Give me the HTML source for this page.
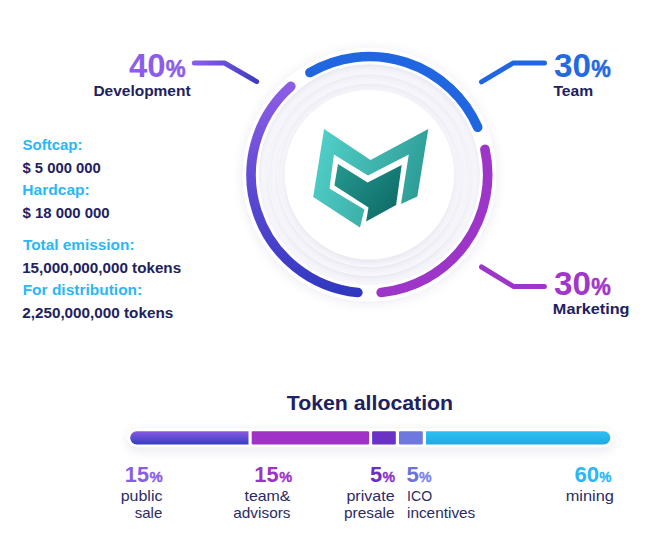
<!DOCTYPE html>
<html>
<head>
<meta charset="utf-8">
<title>Token allocation</title>
<style>
html,body{margin:0;padding:0;background:#ffffff;}
body{width:663px;height:533px;overflow:hidden;position:relative;font-family:"Liberation Sans",sans-serif;}
svg{position:absolute;left:0;top:0;display:block;}
text{font-family:"Liberation Sans",sans-serif;}
.b{font-weight:bold;}
.navy{fill:#21215e;}
.cyan{fill:#2ab7f5;}
.lab{fill:#2b2b63;font-size:15px;}
</style>
</head>
<body>
<svg width="663" height="533" viewBox="0 0 663 533">
<defs>
  <radialGradient id="halo" gradientUnits="userSpaceOnUse" cx="369.4" cy="176.3" r="140">
    <stop offset="0.89" stop-color="#e9e9f2" stop-opacity="0.6"/>
    <stop offset="0.935" stop-color="#efeff6" stop-opacity="0.3"/>
    <stop offset="1" stop-color="#ffffff" stop-opacity="0"/>
  </radialGradient>
  <radialGradient id="band" gradientUnits="userSpaceOnUse" cx="369.4" cy="174.8" r="111">
    <stop offset="0.760" stop-color="#ffffff"/>
    <stop offset="0.774" stop-color="#f4f4f9"/>
    <stop offset="0.815" stop-color="#f6f6fa"/>
    <stop offset="0.825" stop-color="#fafafd"/>
    <stop offset="0.835" stop-color="#f5f5fa"/>
    <stop offset="0.897" stop-color="#f6f6fa"/>
    <stop offset="0.907" stop-color="#fafafd"/>
    <stop offset="0.917" stop-color="#f4f4f9"/>
    <stop offset="0.975" stop-color="#f2f2f8"/>
    <stop offset="0.988" stop-color="#efeff6"/>
    <stop offset="0.998" stop-color="#ffffff"/>
  </radialGradient>
  <linearGradient id="gdev" gradientUnits="userSpaceOnUse" x1="300" y1="80" x2="330" y2="295">
    <stop offset="0" stop-color="#8e5ee6"/>
    <stop offset="0.5" stop-color="#5a48d2"/>
    <stop offset="1" stop-color="#3038c0"/>
  </linearGradient>
  <linearGradient id="gdevl" gradientUnits="userSpaceOnUse" x1="192" y1="63" x2="258" y2="82">
    <stop offset="0" stop-color="#8f5fe8"/>
    <stop offset="1" stop-color="#3a3cc2"/>
  </linearGradient>
  <linearGradient id="glogo" gradientUnits="userSpaceOnUse" x1="316" y1="150" x2="428" y2="190">
    <stop offset="0" stop-color="#50cfc8"/>
    <stop offset="0.5" stop-color="#3fb4ad"/>
    <stop offset="1" stop-color="#2a9a93"/>
  </linearGradient>
  <linearGradient id="glogo2" gradientUnits="userSpaceOnUse" x1="338" y1="165" x2="398" y2="212">
    <stop offset="0" stop-color="#24978f"/>
    <stop offset="1" stop-color="#0e6b66"/>
  </linearGradient>
  <linearGradient id="gbar1" x1="0" y1="0" x2="0" y2="1">
    <stop offset="0" stop-color="#8a58e2"/>
    <stop offset="1" stop-color="#343ec0"/>
  </linearGradient>
  <linearGradient id="gbar5" x1="0" y1="0" x2="0" y2="1">
    <stop offset="0" stop-color="#2dc0f4"/>
    <stop offset="1" stop-color="#22a8e2"/>
  </linearGradient>
  <linearGradient id="gp5" x1="0" y1="0" x2="1" y2="0">
    <stop offset="0" stop-color="#6a30c4"/>
    <stop offset="1" stop-color="#9a34cc"/>
  </linearGradient>
  <linearGradient id="gi5" x1="0" y1="0" x2="1" y2="0">
    <stop offset="0" stop-color="#6a70dc"/>
    <stop offset="1" stop-color="#8088ee"/>
  </linearGradient>
  <filter id="barsh" x="-10%" y="-200%" width="120%" height="500%">
    <feGaussianBlur stdDeviation="5"/>
  </filter>
<clipPath id="c1106"><circle cx="369.4" cy="174.8" r="110.6"/></clipPath>
<clipPath id="c1007"><circle cx="369.4" cy="174.8" r="100.7"/></clipPath>
<clipPath id="c916"><circle cx="369.4" cy="174.8" r="91.6"/></clipPath>
<filter id="b2" x="-10%" y="-10%" width="120%" height="120%"><feGaussianBlur stdDeviation="2.2"/></filter>
</defs>

<!-- ring background -->
<circle cx="369.4" cy="176.3" r="140" fill="url(#halo)"/>
<circle cx="369.4" cy="174.8" r="127" fill="#ffffff"/>
<g clip-path="url(#c1106)">
<circle cx="369.4" cy="174.8" r="110.6" fill="#f5f5fa"/>
<circle cx="369.4" cy="177.8" r="114.6" fill="none" stroke="#d6d6e4" stroke-width="8" filter="url(#b2)" opacity="0.4"/>
<circle cx="369.4" cy="177.8" r="100.7" fill="#d6d6e4" filter="url(#b2)" opacity="0.4"/>
<circle cx="369.4" cy="174.8" r="100.7" fill="#f5f5fa" stroke="#fbfbfe" stroke-width="1"/>
<g clip-path="url(#c1007)"><circle cx="369.4" cy="177.8" r="104.7" fill="none" stroke="#d6d6e4" stroke-width="8" filter="url(#b2)" opacity="0.3"/></g>
<circle cx="369.4" cy="177.8" r="91.6" fill="#d6d6e4" filter="url(#b2)" opacity="0.4"/>
<circle cx="369.4" cy="174.8" r="91.6" fill="#f5f5fa" stroke="#fbfbfe" stroke-width="1"/>
<g clip-path="url(#c916)"><circle cx="369.4" cy="177.8" r="95.6" fill="none" stroke="#d6d6e4" stroke-width="8" filter="url(#b2)" opacity="0.3"/></g>
<circle cx="369.4" cy="177.8" r="84.8" fill="#d6d6e4" filter="url(#b2)" opacity="0.4"/>
<circle cx="369.4" cy="174.8" r="84.8" fill="#ffffff"/>
</g>

<!-- arcs -->
<g fill="none" stroke-width="9.6" stroke-linecap="round">
  <path d="M357.86 292.54A118.3 118.3 0 0 1 290.86 86.34" stroke="url(#gdev)"/>
  <path d="M309.89 72.56A118.3 118.3 0 0 1 477.72 127.25" stroke="#2066e0"/>
  <path d="M484.94 149.40A118.3 118.3 0 0 1 381.15 292.52" stroke="#9d35c9"/>
</g>

<!-- connector lines -->
<g fill="none" stroke-width="5" stroke-linecap="round" stroke-linejoin="round">
  <path d="M194.3 63H224.5L256.7 81.6" stroke="url(#gdevl)"/>
  <path d="M481.5 81.9L513.4 62.9H544.5" stroke="#2066e0"/>
  <path d="M481.5 267L513.4 286.4H544.4" stroke="#9d35c9"/>
</g>

<!-- logo -->
<path d="M324.1 129L370.5 160L428.3 129L417.3 196.6L401 203.9L408.8 154.6L368 175.4L333.9 154.6L329.5 188.5L364.4 209.5L360 227.6L313.2 197Z" fill="url(#glogo)"/>
<path d="M338 164.1L367.6 182.4L401.7 164.9L396.1 205.1L366.1 221.5L368.5 207.6L334.4 185.6Z" fill="url(#glogo2)"/>

<text id="t40" x="128.97" y="76.7" font-size="32.7" font-weight="bold" fill="#8d5dea" textLength="36.54" lengthAdjust="spacingAndGlyphs">40</text>
<text id="p40" x="165.73" y="76.7" font-size="23.2" font-weight="bold" fill="#8d5dea" stroke="#8d5dea" stroke-width="0.5" textLength="19.84" lengthAdjust="spacingAndGlyphs">%</text>
<text id="dev" x="93.41" y="95.7" font-size="14" font-weight="bold" fill="#21215e" textLength="97.17" lengthAdjust="spacingAndGlyphs">Development</text>
<text id="t30a" x="553.94" y="76.9" font-size="32.7" font-weight="bold" fill="#2369e2" textLength="36.98" lengthAdjust="spacingAndGlyphs">30</text>
<text id="p30a" x="591.24" y="76.9" font-size="23.2" font-weight="bold" fill="#2369e2" stroke="#2369e2" stroke-width="0.5" textLength="19.58" lengthAdjust="spacingAndGlyphs">%</text>
<text id="team" x="553.47" y="95.7" font-size="14" font-weight="bold" fill="#21215e" textLength="39.72" lengthAdjust="spacingAndGlyphs">Team</text>
<text id="t30b" x="553.94" y="294.9" font-size="32.7" font-weight="bold" fill="#9f37cb" textLength="36.98" lengthAdjust="spacingAndGlyphs">30</text>
<text id="p30b" x="591.24" y="294.9" font-size="23.2" font-weight="bold" fill="#9f37cb" stroke="#9f37cb" stroke-width="0.5" textLength="19.58" lengthAdjust="spacingAndGlyphs">%</text>
<text id="mk" x="552.86" y="313.5" font-size="14" font-weight="bold" fill="#21215e" textLength="76.68" lengthAdjust="spacingAndGlyphs">Marketing</text>
<text id="soft" x="22.47" y="149.5" font-size="14" font-weight="bold" fill="#2ab7f5" textLength="60.08" lengthAdjust="spacingAndGlyphs">Softcap:</text>
<text id="s5" x="22.49" y="172.7" font-size="14" font-weight="bold" fill="#21215e" textLength="78.22" lengthAdjust="spacingAndGlyphs">$ 5 000 000</text>
<text id="hard" x="22.39" y="194.5" font-size="14" font-weight="bold" fill="#2ab7f5" textLength="67.41" lengthAdjust="spacingAndGlyphs">Hardcap:</text>
<text id="s18" x="22.49" y="217.7" font-size="14" font-weight="bold" fill="#21215e" textLength="87.05" lengthAdjust="spacingAndGlyphs">$ 18 000 000</text>
<text id="tot" x="22.98" y="250.0" font-size="14" font-weight="bold" fill="#2ab7f5" textLength="111.55" lengthAdjust="spacingAndGlyphs">Total emission:</text>
<text id="e15" x="22.17" y="272.8" font-size="14" font-weight="bold" fill="#21215e" textLength="158.98" lengthAdjust="spacingAndGlyphs">15,000,000,000 tokens</text>
<text id="ford" x="22.66" y="294.7" font-size="14" font-weight="bold" fill="#2ab7f5" textLength="119.57" lengthAdjust="spacingAndGlyphs">For distribution:</text>
<text id="e22" x="22.21" y="317.8" font-size="14" font-weight="bold" fill="#21215e" textLength="150.99" lengthAdjust="spacingAndGlyphs">2,250,000,000 tokens</text>
<text id="tok" x="286.73" y="410.1" font-size="20" font-weight="bold" fill="#21215e" textLength="166.36" lengthAdjust="spacingAndGlyphs">Token allocation</text>
<text id="n15a" x="124.89" y="482" font-size="21.5" font-weight="bold" fill="#8b5de6" textLength="24.06" lengthAdjust="spacingAndGlyphs">15</text>
<text id="q15a" x="149.48" y="482" font-size="15.0" font-weight="bold" fill="#8b5de6" stroke="#8b5de6" stroke-width="0.35" textLength="13.25" lengthAdjust="spacingAndGlyphs">%</text>
<text id="n15b" x="254.38" y="482" font-size="21.5" font-weight="bold" fill="#9b33c9" textLength="24.22" lengthAdjust="spacingAndGlyphs">15</text>
<text id="q15b" x="279.23" y="482" font-size="15.0" font-weight="bold" fill="#9b33c9" stroke="#9b33c9" stroke-width="0.35" textLength="12.94" lengthAdjust="spacingAndGlyphs">%</text>
<text id="n5a" x="369.91" y="482" font-size="21.5" font-weight="bold" fill="#6a30c4" textLength="12.14" lengthAdjust="spacingAndGlyphs">5</text>
<text id="q5a" x="382.50" y="482" font-size="15.0" font-weight="bold" fill="#8a33ca" stroke="#8a33ca" stroke-width="0.35" textLength="12.56" lengthAdjust="spacingAndGlyphs">%</text>
<text id="n5b" x="406.43" y="482" font-size="21.5" font-weight="bold" fill="#6b72dd" textLength="12.38" lengthAdjust="spacingAndGlyphs">5</text>
<text id="q5b" x="418.99" y="482" font-size="15.0" font-weight="bold" fill="#7a82ea" stroke="#7a82ea" stroke-width="0.35" textLength="12.58" lengthAdjust="spacingAndGlyphs">%</text>
<text id="n60" x="574.42" y="482" font-size="21.5" font-weight="bold" fill="#2ab7f5" textLength="24.67" lengthAdjust="spacingAndGlyphs">60</text>
<text id="q60" x="599.26" y="482" font-size="15.0" font-weight="bold" fill="#2ab7f5" stroke="#2ab7f5" stroke-width="0.35" textLength="12.18" lengthAdjust="spacingAndGlyphs">%</text>
<text id="pub" x="120.69" y="501" font-size="14.5" fill="#2b2b63" textLength="41.76" lengthAdjust="spacingAndGlyphs">public</text>
<text id="sale" x="134.75" y="518" font-size="14.5" fill="#2b2b63" textLength="27.48" lengthAdjust="spacingAndGlyphs">sale</text>
<text id="tm" x="244.49" y="501" font-size="14.5" fill="#2b2b63" textLength="45.99" lengthAdjust="spacingAndGlyphs">team&amp;</text>
<text id="adv" x="233.23" y="518" font-size="14.5" fill="#2b2b63" textLength="57.29" lengthAdjust="spacingAndGlyphs">advisors</text>
<text id="priv" x="346.43" y="501" font-size="14.5" fill="#2b2b63" textLength="48.15" lengthAdjust="spacingAndGlyphs">private</text>
<text id="pres" x="343.97" y="518" font-size="14.5" fill="#2b2b63" textLength="50.61" lengthAdjust="spacingAndGlyphs">presale</text>
<text id="ico" x="407.07" y="501" font-size="14.5" fill="#2b2b63" textLength="25.07" lengthAdjust="spacingAndGlyphs">ICO</text>
<text id="inc" x="406.98" y="518" font-size="14.5" fill="#2b2b63" textLength="68.34" lengthAdjust="spacingAndGlyphs">incentives</text>
<text id="min" x="565.66" y="501" font-size="14.5" fill="#2b2b63" textLength="48.28" lengthAdjust="spacingAndGlyphs">mining</text>
<!-- token allocation -->

<rect x="127" y="430" width="486.5" height="22" rx="11" fill="#dcdce8" opacity="0.55" filter="url(#barsh)"/>
<rect x="127" y="428.3" width="486.5" height="19" rx="9.5" fill="#ffffff"/>
<path d="M136.7 431.3H248.5V444.4H136.7A6.55 6.55 0 0 1 136.7 431.3Z" fill="url(#gbar1)"/>
<rect x="251.7" y="431.3" width="117.3" height="13.1" rx="1" fill="#a032c6"/>
<rect x="372.1" y="431.3" width="23.7" height="13.1" rx="1" fill="#6a32c4"/>
<rect x="399" y="431.3" width="23.8" height="13.1" rx="1" fill="#6f78dd"/>
<path d="M426 431.3H603.85A6.55 6.55 0 0 1 603.85 444.4H426Z" fill="url(#gbar5)"/>

</svg>
</body>
</html>
